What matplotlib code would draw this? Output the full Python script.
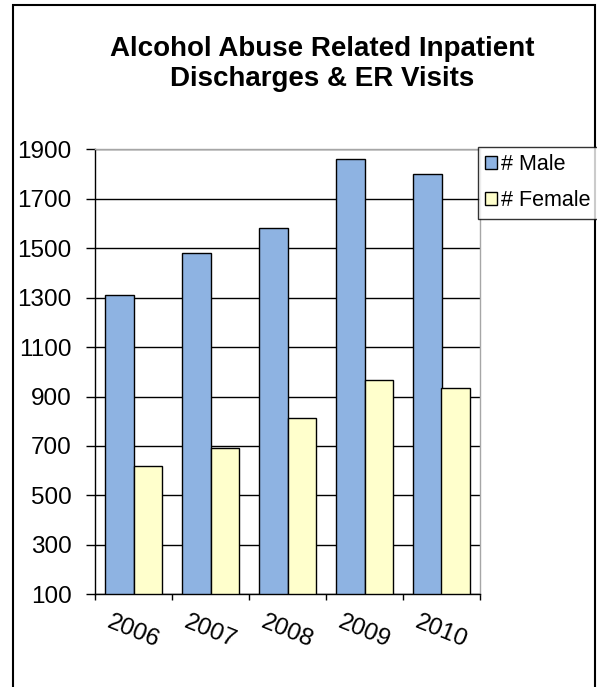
import matplotlib
matplotlib.use('Agg')
import matplotlib.pyplot as plt
import matplotlib.patches as patches
import numpy as np

# Chart data
years = ['2006', '2007', '2008', '2009', '2010']
male = [1310, 1480, 1580, 1860, 1800]
female = [620, 690, 815, 965, 935]
y_ticks = [100, 300, 500, 700, 900, 1100, 1300, 1500, 1700, 1900]

plt.rcParams['font.family'] = ['Liberation Sans', 'DejaVu Sans']

W, H = 597, 687
fig = plt.figure(figsize=(W / 100, H / 100), dpi=100)
fig.patch.set_facecolor('white')

# Plot area placed in pixel terms
left, right, top, bottom = 95, 480, 149.3, 594.3
ax = fig.add_axes([left / W, 1 - bottom / H, (right - left) / W, (bottom - top) / H])

x = np.arange(len(years))
bw = 0.373
ax.bar(x - bw / 2, np.array(male) - 100, bw, bottom=100, color='#8EB3E2',
       edgecolor='black', linewidth=1.0, label='# Male', zorder=3)
ax.bar(x + bw / 2, np.array(female) - 100, bw, bottom=100, color='#FFFFCC',
       edgecolor='black', linewidth=1.0, label='# Female', zorder=3)

ax.set_xlim(-0.5, len(years) - 0.5)
ax.set_ylim(100, 1900)

# Y axis ticks and gridlines
ax.set_yticks(y_ticks)
ax.set_yticklabels([str(v) for v in y_ticks], fontsize=17.5)
ax.tick_params(axis='y', direction='out', length=6.5, width=1, pad=10.5, colors='black')
ax.set_axisbelow(True)
ax.yaxis.grid(True, color='black', linewidth=1.0)

# X axis: boundary ticks as minor, labels at the centres
ax.set_xticks(x)
ax.set_xticklabels(years, fontsize=17.5, rotation=-22, ha='center', va='center',
                   rotation_mode='anchor')
ax.tick_params(axis='x', which='major', length=0, pad=27)
ax.set_xticks(np.arange(-0.5, len(years), 1.0), minor=True)
ax.tick_params(axis='x', which='minor', direction='out', length=4.5, width=1)

for s in ['left', 'bottom']:
    ax.spines[s].set_color('black')
    ax.spines[s].set_linewidth(1.0)
for s in ['top', 'right']:
    ax.spines[s].set_color('#A6A6A6')
    ax.spines[s].set_linewidth(1.0)

# Title
fig.text(322 / W, 1 - 64 / H, 'Alcohol Abuse Related Inpatient\nDischarges & ER Visits',
         ha='center', va='center', fontsize=20, fontweight='bold', linespacing=1.15)

# Legend
leg = fig.legend(loc='upper left', bbox_to_anchor=(477.7 / W, 1 - 146.7 / H),
                 bbox_transform=fig.transFigure, fontsize=15.5, frameon=True,
                 fancybox=False, handlelength=0.55, handleheight=0.55,
                 handletextpad=0.2, labelspacing=0.7, borderpad=0.35,
                 borderaxespad=0)
leg.get_frame().set_edgecolor('black')
leg.get_frame().set_linewidth(1.0)

# Outer chart border
border = patches.Rectangle((13 / W, -0.1), (595 - 13) / W, (H - 4.5) / H + 0.1,
                           transform=fig.transFigure, fill=False,
                           edgecolor='black', linewidth=1.5)
fig.patches.append(border)

fig.savefig('out.png', dpi=100)
